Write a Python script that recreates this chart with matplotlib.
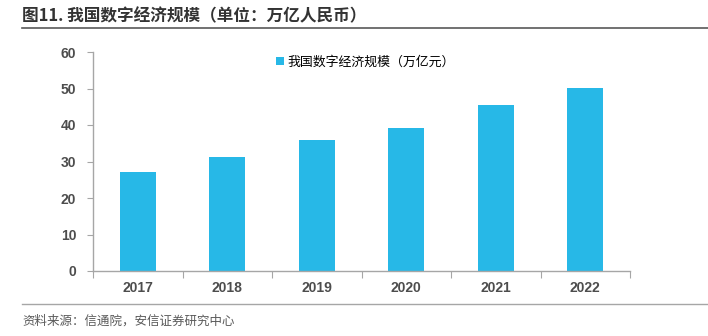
import matplotlib
matplotlib.use("Agg")
from matplotlib import pyplot as plt
import numpy as np

plt.rcParams['font.family'] = ['Liberation Sans', 'Noto Sans CJK SC', 'DejaVu Sans']

years = ["2017", "2018", "2019", "2020", "2021", "2022"]
values = [27.2, 31.3, 35.8, 39.2, 45.5, 50.2]
series_name = "我国数字经济规模（万亿元）"
title = "图11. 我国数字经济规模（单位：万亿人民币）"
source = "资料来源：信通院，安信证券研究中心"

bar_color = "#27B8E7"
axis_color = "#A6A6A6"
text_color = "#4D4D4D"

fig = plt.figure(figsize=(7.08, 3.36), dpi=100)
ax = fig.add_axes([93 / 708, 1 - 271 / 336, 537 / 708, 219 / 336])

x = np.arange(len(years))
ax.bar(x, values, width=0.4, color=bar_color, label=series_name)

ax.set_xlim(-0.5, len(years) - 0.5)
ax.set_ylim(0, 60)
ax.set_yticks(range(0, 61, 10))
ax.set_xticks(np.arange(-0.5, len(years), 1.0))
ax.set_xticklabels([])
ax.set_xticks(x, minor=True)
ax.set_xticklabels(years, minor=True, fontweight="bold")
for lbl in ax.get_yticklabels():
    lbl.set_fontweight("bold")
ax.tick_params(axis="x", which="major", length=5, color=axis_color, direction="out")
ax.tick_params(axis="x", which="minor", length=0, pad=7, labelsize=10, labelcolor=text_color)
ax.tick_params(axis="y", length=4, color=axis_color, labelsize=10, labelcolor=text_color, pad=8)

for side in ["top", "right"]:
    ax.spines[side].set_visible(False)
for side in ["left", "bottom"]:
    ax.spines[side].set_color(axis_color)
    ax.spines[side].set_linewidth(1.0)

ax.legend(loc="upper left", bbox_to_anchor=(0.32, 1.035), frameon=False,
          prop={"family": ["Noto Sans CJK SC"], "size": 9.3}, handlelength=0.55,
          handleheight=0.55, handletextpad=0.3)

fig.text(22 / 708, 1 - 16 / 336, title, fontsize=12, fontweight="bold",
         color="#333333", va="center", family=["Noto Sans CJK SC", "DejaVu Sans"])
fig.add_artist(plt.Line2D([22 / 708, 1], [1 - 28 / 336] * 2, color="#595959", lw=1.2))
fig.add_artist(plt.Line2D([22 / 708, 1], [1 - 304 / 336] * 2, color="#A6A6A6", lw=1.0))
fig.text(22 / 708, 1 - 321 / 336, source, fontsize=9, style="italic",
         color="#595959", va="center", family=["Noto Sans CJK SC", "DejaVu Sans"])

fig.savefig("out.png", dpi=100)
